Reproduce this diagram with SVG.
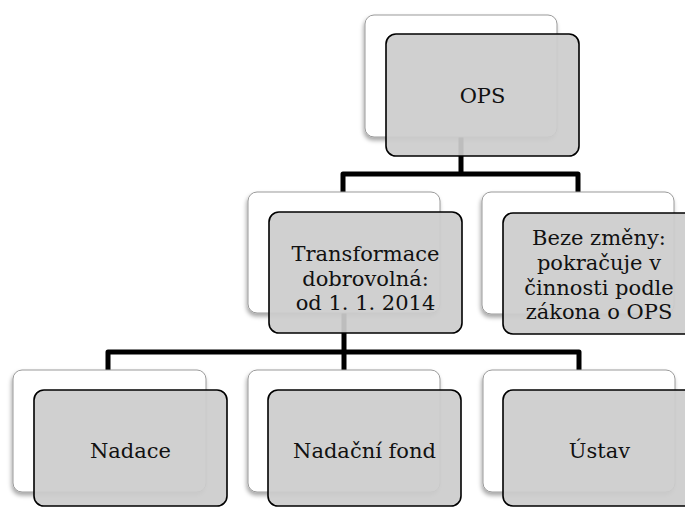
<svg xmlns="http://www.w3.org/2000/svg" width="685" height="507" viewBox="0 0 685 507">
<defs>
<filter id="sh" x="-10%" y="-10%" width="120%" height="125%">
<feDropShadow dx="-1" dy="3" stdDeviation="2" flood-color="#000" flood-opacity="0.35"/>
</filter>
<style>
.back{fill:#ffffff;stroke:#9a9a9a;stroke-width:1;filter:url(#sh)}
.front{fill:#cccccc;fill-opacity:0.925;stroke:#000;stroke-width:1.6}
.conn{fill:none;stroke:#000;stroke-width:5;stroke-linejoin:round}
text{font-family:"DejaVu Serif","Liberation Serif",serif;font-size:21px;fill:#111;text-anchor:middle}
</style>
</defs>
<rect width="685" height="507" fill="#fff"/>
<g id="connectors">
<path class="conn" d="M461,137 V174 M343,192 V174 H578 V192"/>
<path class="conn" d="M344,313 V352 M108,370 V352 H579 V370 M344,352 V370"/>
</g>
<g id="ops">
<rect class="back" x="365" y="15" width="192" height="122" rx="9"/>
<rect class="front" x="386" y="34" width="193" height="122" rx="10"/>
<text x="482.5" y="103">OPS</text>
</g>
<g id="transformace">
<rect class="back" x="248" y="192" width="192" height="121" rx="9"/>
<rect class="front" x="269" y="212" width="193" height="121" rx="10"/>
<text x="365.5" y="261">Transformace</text>
<text x="365.5" y="285.5">dobrovolná:</text>
<text x="365.5" y="310">od 1. 1. 2014</text>
</g>
<g id="beze">
<rect class="back" x="482" y="192" width="192" height="122" rx="9"/>
<rect class="front" x="503" y="213" width="193" height="121" rx="10"/>
<text x="599" y="245">Beze změny:</text>
<text x="599" y="270">pokračuje v</text>
<text x="599" y="294.5">činnosti podle</text>
<text x="599" y="319">zákona o OPS</text>
</g>
<g id="nadace">
<rect class="back" x="13" y="370" width="193" height="122" rx="9"/>
<rect class="front" x="34" y="390" width="193" height="116" rx="10"/>
<text x="130.5" y="458">Nadace</text>
</g>
<g id="nadacni-fond">
<rect class="back" x="248" y="370" width="192" height="122" rx="9"/>
<rect class="front" x="268" y="390" width="193" height="116" rx="10"/>
<text x="364.5" y="458">Nadační fond</text>
</g>
<g id="ustav">
<rect class="back" x="483" y="370" width="192" height="122" rx="9"/>
<rect class="front" x="503" y="390" width="193" height="116" rx="10"/>
<text x="599.5" y="458">Ústav</text>
</g>
</svg>
